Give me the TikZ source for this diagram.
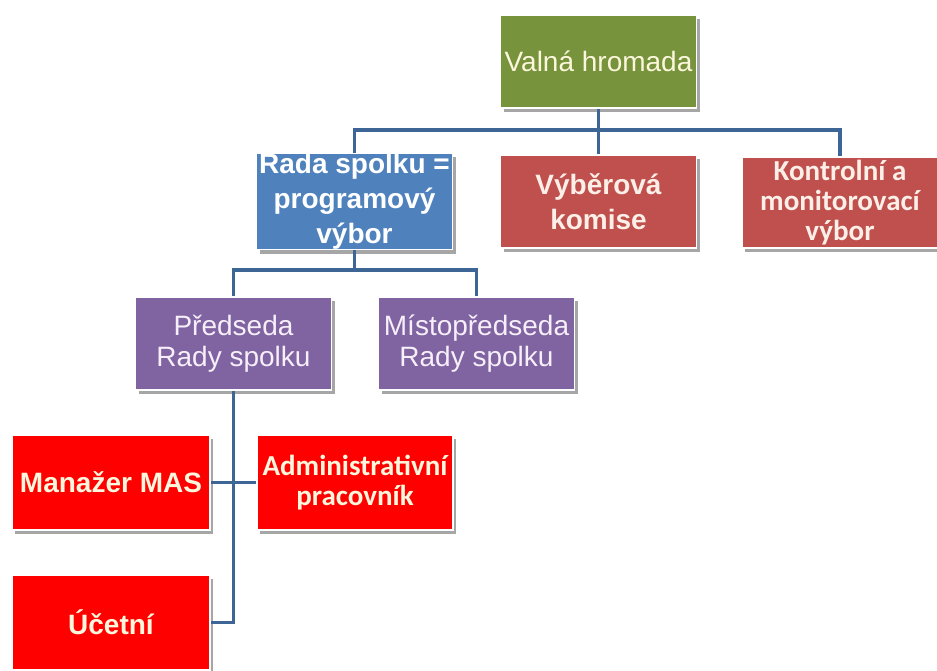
\documentclass[tikz,border=0pt]{standalone}
\usepackage{fontspec}
\setmainfont{Liberation Sans}
\newfontfamily\calib{Carlito}
\usetikzlibrary{shadows}
\definecolor{cgreen}{HTML}{77933C}
\definecolor{cblue}{HTML}{4F81BD}
\definecolor{cdred}{HTML}{C0504D}
\definecolor{cpurple}{HTML}{8064A2}
\definecolor{cred}{HTML}{FF0000}
\definecolor{cconn}{HTML}{3D6596}
\definecolor{ccream}{HTML}{FBF6DC}
\definecolor{cpink}{HTML}{FCEFE8}
\definecolor{clav}{HTML}{F6EEF8}
\tikzset{
  box/.style={rectangle, draw=white, line width=1.5pt, minimum width=196pt, minimum height=93pt,
    inner sep=0pt, align=center, drop shadow={shadow xshift=3pt, shadow yshift=-4pt, opacity=0.35, fill=black}},
  conn/.style={draw=cconn, line width=3.5pt, line join=miter},
  bigreg/.style={font=\fontsize{28}{31}\selectfont},
  bigbold/.style={font=\fontsize{28}{35}\selectfont\bfseries},
  calbold/.style={font=\fontsize{29}{30}\selectfont\calib\bfseries},
  arbold/.style={font=\fontsize{28}{30}\selectfont\bfseries}
}
\begin{document}
\begin{tikzpicture}[x=1pt,y=-1pt]
\useasboundingbox[fill=white] (0,0) rectangle (937,671);
% nodes
\node[box, fill=cgreen, text=ccream, bigreg] (valna) at (598.5,61.5) {Valná hromada};
\node[box, fill=cblue, text=white, bigbold] (rada) at (354.5,201.5) {Rada spolku =\\programový\\výbor};
\node[box, fill=cdred, text=cpink, bigbold] (vyber) at (598.5,201.5) {Výběrová\\komise};
\node[box, fill=cdred, text=cpink, calbold, minimum height=91pt] (kontrol) at (840,202.5) {Kontrolní a\\monitorovací\\výbor};
\node[box, fill=cpurple, text=clav, bigreg] (predseda) at (233.5,343.5) {Předseda\\Rady spolku};
\node[box, fill=cpurple, text=clav, bigreg] (misto) at (476.5,343.5) {Místopředseda\\Rady spolku};
\node[box, fill=cred, text=ccream, arbold, minimum width=198pt, minimum height=95pt] (manazer) at (111,482.5) {Manažer MAS};
\node[box, fill=cred, text=ccream, calbold, minimum height=95pt] (admin) at (355,482.5) {Administrativní\\pracovník};
\node[box, fill=cred, text=ccream, arbold, minimum width=198pt, minimum height=95pt] (ucetni) at (111,622.5) {Účetní};
% connectors
\coordinate (b1) at (598.5,130);
\coordinate (b2) at (354.5,270);
\draw[conn] (valna.south) -- (b1);
\draw[conn] (rada.north) |- (b1);
\draw[conn] (vyber.north) -- (b1);
\draw[conn] (kontrol.north) |- (b1);
\draw[conn] (rada.south) -- (b2);
\draw[conn] (predseda.north) |- (b2);
\draw[conn] (misto.north) |- (b2);
\draw[conn] (predseda.south) |- (ucetni.east);
\draw[conn] (manazer.east) -- (admin.west);
\end{tikzpicture}
\end{document}
